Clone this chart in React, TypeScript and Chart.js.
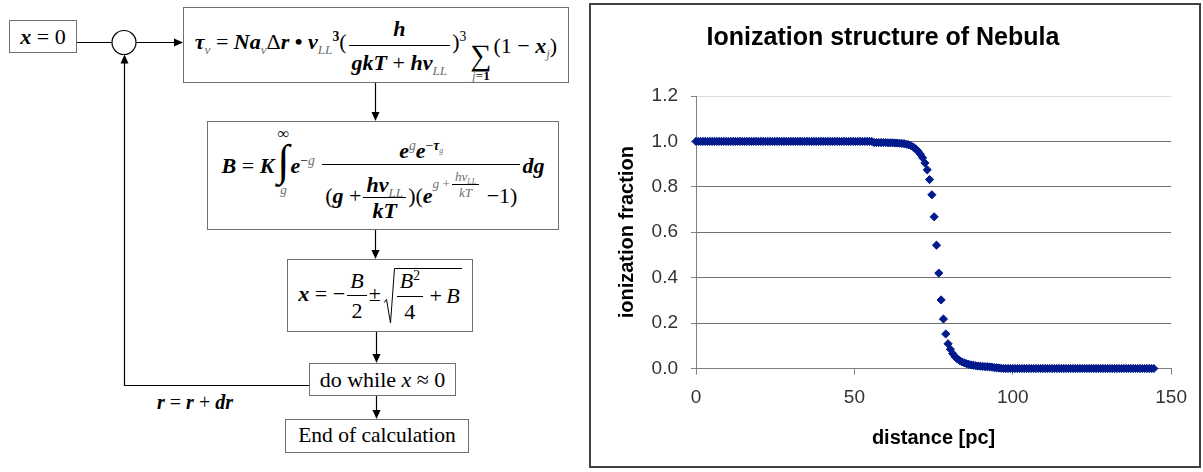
import React, { useEffect, useRef } from 'react';
import { Chart, registerables } from 'chart.js';

Chart.register(...registerables);

// ---------------- data ----------------
const distance = [
  0, 0.73, 1.46, 2.19, 2.92, 3.65, 4.38, 5.11, 5.84, 6.57,
  7.3, 8.03, 8.76, 9.49, 10.22, 10.95, 11.68, 12.41, 13.14, 13.87,
  14.6, 15.33, 16.06, 16.79, 17.52, 18.25, 18.98, 19.71, 20.44, 21.17,
  21.9, 22.63, 23.36, 24.09, 24.82, 25.55, 26.28, 27.01, 27.74, 28.47,
  29.2, 29.93, 30.66, 31.39, 32.12, 32.85, 33.58, 34.31, 35.04, 35.77,
  36.5, 37.23, 37.96, 38.69, 39.42, 40.15, 40.88, 41.61, 42.34, 43.07,
  43.8, 44.53, 45.26, 45.99, 46.72, 47.45, 48.18, 48.91, 49.64, 50.37,
  51.1, 51.83, 52.56, 53.29, 54.02, 54.75, 55.48, 56.21, 56.94, 57.67,
  58.4, 59.13, 59.86, 60.59, 61.32, 62.05, 62.78, 63.51, 64.24, 64.97,
  65.7, 66.43, 67.16, 67.89, 68.62, 69.35, 70.08, 70.81, 71.54, 72.27,
  73, 73.73, 74.46, 75.19, 75.92, 76.65, 77.38, 78.11, 78.84, 79.57,
  80.3, 81.03, 81.76, 82.49, 83.22, 83.95, 84.68, 85.41, 86.14, 86.87,
  87.6, 88.33, 89.06, 89.79, 90.52, 91.25, 91.98, 92.71, 93.44, 94.17,
  94.9, 95.63, 96.36, 97.09, 97.82, 98.55, 99.28, 100.01, 100.74, 101.47,
  102.2, 102.93, 103.66, 104.39, 105.12, 105.85, 106.58, 107.31, 108.04, 108.77,
  109.5, 110.23, 110.96, 111.69, 112.42, 113.15, 113.88, 114.61, 115.34, 116.07,
  116.8, 117.53, 118.26, 118.99, 119.72, 120.45, 121.18, 121.91, 122.64, 123.37,
  124.1, 124.83, 125.56, 126.29, 127.02, 127.75, 128.48, 129.21, 129.94, 130.67,
  131.4, 132.13, 132.86, 133.59, 134.32, 135.05, 135.78, 136.51, 137.24, 137.97,
  138.7, 139.43, 140.16, 140.89, 141.62, 142.35, 143.08, 143.81, 144.54,
];

const ionizationFraction = [
  1, 1, 1, 1, 1, 1, 1, 1, 1, 1,
  1, 1, 1, 1, 1, 1, 1, 1, 1, 1,
  1, 1, 1, 1, 1, 1, 1, 1, 1, 1,
  1, 1, 1, 1, 1, 1, 1, 1, 1, 1,
  1, 1, 1, 1, 1, 1, 1, 1, 1, 1,
  1, 1, 1, 1, 1, 1, 1, 1, 1, 1,
  1, 1, 1, 1, 1, 1, 1, 1, 1, 1,
  1, 1, 1, 1, 1, 1, 1, 0.995, 0.995, 0.995,
  0.995, 0.995, 0.995, 0.994, 0.994, 0.994, 0.993, 0.993, 0.992, 0.991,
  0.99, 0.988, 0.985, 0.981, 0.975, 0.967, 0.957, 0.944, 0.928, 0.905,
  0.875, 0.832, 0.765, 0.668, 0.543, 0.42, 0.302, 0.218, 0.152, 0.109,
  0.085, 0.066, 0.052, 0.042, 0.035, 0.029, 0.025, 0.021, 0.018, 0.016,
  0.014, 0.012, 0.011, 0.01, 0.009, 0.008, 0.008, 0.007, 0.006, 0.004,
  0.003, 0.002, 0.001, 0, 0, 0, 0, 0, 0, 0,
  0, 0, 0, 0, 0, 0, 0, 0, 0, 0,
  0, 0, 0, 0, 0, 0, 0, 0, 0, 0,
  0, 0, 0, 0, 0, 0, 0, 0, 0, 0,
  0, 0, 0, 0, 0, 0, 0, 0, 0, 0,
  0, 0, 0, 0, 0, 0, 0, 0, 0, 0,
  0, 0, 0, 0, 0, 0, 0, 0, 0,
];

const chartTitle = 'Ionization structure of Nebula';
const xAxisTitle = 'distance [pc]';
const yAxisTitle = 'ionization fraction';
const xRange = [0, 150];
const yRange = [0, 1.2];

// ---------------- math helpers ----------------
const SERIF = '"Liberation Serif", "Times New Roman", "DejaVu Serif", serif';
const SANS = '"Liberation Sans", Arial, sans-serif';
const GRAY = '#707070';

function BI({ children }: any) {
  return <span style={{ fontWeight: 700, fontStyle: 'italic' }}>{children}</span>;
}
function It({ children, gray }: any) {
  return <span style={{ fontStyle: 'italic', color: gray ? GRAY : undefined }}>{children}</span>;
}
function Sub({ children, gray = true }: any) {
  return (
    <span style={{ fontSize: '0.6em', position: 'relative', top: '0.4em', fontStyle: 'italic', fontWeight: 400, color: gray ? GRAY : undefined }}>
      {children}
    </span>
  );
}
function Sup({ children, bold, gray }: any) {
  return (
    <span style={{ fontSize: '0.62em', position: 'relative', top: '-0.6em', fontWeight: bold ? 700 : 400, color: gray ? GRAY : undefined }}>
      {children}
    </span>
  );
}
function Frac({ num, den, gap = 3, gapTop, lh = 1.15, va = 'middle' }: any) {
  const gTop = gapTop === undefined ? gap : gapTop;
  return (
    <span style={{ display: 'inline-flex', flexDirection: 'column', alignItems: 'center', verticalAlign: va, margin: '0 2px' }}>
      <span style={{ padding: `0 3px ${gTop}px`, lineHeight: lh }}>{num}</span>
      <span style={{ borderTop: '1px solid #000', padding: `${gap}px 3px 0`, lineHeight: lh, alignSelf: 'stretch', textAlign: 'center' }}>{den}</span>
    </span>
  );
}
function Sigma() {
  return (
    <span style={{ display: 'inline-flex', flexDirection: 'column', alignItems: 'center', verticalAlign: '-0.55em', margin: '0 2px 0 4px', lineHeight: 0.9 }}>
      <span style={{ fontSize: '1.35em' }}>∑</span>
      <span style={{ fontSize: '0.6em', lineHeight: 1.2 }}>
        <It gray>j</It>=<b>1</b>
      </span>
    </span>
  );
}
function Integral() {
  return (
    <span style={{ display: 'inline-flex', flexDirection: 'column', alignItems: 'center', verticalAlign: '34px', lineHeight: 1, margin: '0 1px 0 3px' }}>
      <span style={{ fontSize: '0.75em', lineHeight: 0.6, fontWeight: 700 }}>∞</span>
      <span style={{ fontSize: '2em', lineHeight: 1, fontWeight: 700 }}>∫</span>
      <span style={{ fontSize: '0.6em', lineHeight: 1, fontStyle: 'italic', color: GRAY }}>g</span>
    </span>
  );
}
function Sqrt({ children, h }: any) {
  return (
    <span style={{ display: 'inline-flex', alignItems: 'flex-start', verticalAlign: 'middle', marginLeft: 3 }}>
      <svg width={11} height={h} style={{ display: 'block' }}>
        <polyline points={`0,${h * 0.62} 2.5,${h * 0.56} 6.5,${h - 1} 10.5,0.5 11,0.5`} fill="none" stroke="#000" strokeWidth={1} />
      </svg>
      <span style={{ borderTop: '1px solid #000', height: h - 1, display: 'inline-flex', alignItems: 'center', paddingRight: 2 }}>{children}</span>
    </span>
  );
}

function Box({ x, y, w, h, fs = 22, children, style }: any) {
  return (
    <div
      style={{
        position: 'absolute', left: x, top: y, width: w, height: h, boxSizing: 'border-box',
        border: '1px solid #707070', display: 'flex', alignItems: 'center', justifyContent: 'center',
        fontSize: fs, whiteSpace: 'nowrap', lineHeight: 1, fontFamily: SERIF, color: '#000', ...style,
      }}
    >
      <span>{children}</span>
    </div>
  );
}

function Flowchart() {
  const arrowDown = (x: number, y: number) => `${x},${y} ${x - 4},${y - 9} ${x + 4},${y - 9}`;
  return (
    <>
      <svg width={590} height={472} style={{ position: 'absolute', left: 0, top: 0 }}>
        <g stroke="#000" strokeWidth={1.2} fill="none">
          <line x1={77} y1={42.5} x2={112} y2={42.5} />
          <circle cx={124} cy={42.5} r={12} />
          <line x1={136} y1={42.5} x2={175} y2={42.5} />
          <line x1={375.5} y1={83} x2={375.5} y2={113} />
          <line x1={375.5} y1={229} x2={375.5} y2={251} />
          <line x1={376.5} y1={332} x2={376.5} y2={355} />
          <line x1={376.5} y1={395} x2={376.5} y2={411} />
          <polyline points="309,385.5 124.5,385.5 124.5,62" />
        </g>
        <g fill="#000">
          <polygon points="183,42.5 174,38.5 174,46.5" />
          <polygon points={arrowDown(375.5, 121)} />
          <polygon points={arrowDown(375.5, 259)} />
          <polygon points={arrowDown(376.5, 363)} />
          <polygon points={arrowDown(376.5, 419)} />
          <polygon points="124.5,54.5 120.5,63.5 128.5,63.5" />
        </g>
      </svg>

      <Box x={9} y={20} w={68} h={33} fs={22}>
        <BI>x</BI> = 0
      </Box>

      <Box x={183} y={7} w={386} h={76} fs={22}>
        <span style={{ position: 'relative', top: 3 }}>
          <BI>τ</BI><Sub>ν</Sub> = <BI>Na</BI><Sub>ν</Sub>Δ<BI>r</BI> <b>•</b> <BI>v</BI><Sub>LL</Sub><Sup bold>3</Sup>(
          <Frac va="13px" gap={4} num={<BI>h</BI>} den={<><BI>gkT</BI> + <BI>hv</BI><Sub>LL</Sub></>} />
          )<Sup>3</Sup>
          <span style={{ position: 'relative', top: 4 }}>
            <Sigma />(1 − <BI>x</BI><Sub>j</Sub>)
          </span>
        </span>
      </Box>

      <Box x={207} y={121} w={352} h={109} fs={22}>
        <span style={{ position: 'relative', top: 0 }}>
          <BI>B</BI> = <BI>K</BI>
          <Integral />
          <BI>e</BI><Sup>−<It gray>g</It></Sup>{' '}
          <Frac
            gap={8}
            gapTop={0}
            va="15px"
            num={<><BI>e</BI><Sup><It gray>g</It></Sup><BI>e</BI><Sup>−<BI>τ</BI><Sub>g</Sub></Sup></>}
            den={
              <>
                (<BI>g</BI> +
                <Frac gap={1} lh={1.05} num={<><BI>hv</BI><Sub>LL</Sub></>} den={<BI>kT</BI>} />
                )(<BI>e</BI>
                <span style={{ fontSize: '0.6em', position: 'relative', top: '-1.1em', color: GRAY }}>
                  <It>g</It> +
                  <Frac gap={1} lh={1} num={<It>hv<Sub>LL</Sub></It>} den={<It>kT</It>} />
                </span>
                {' '}−1)
              </>
            }
          />
          <BI>dg</BI>
        </span>
      </Box>

      <Box x={287} y={259} w={186} h={73} fs={22}>
        <It><b>x</b></It> = −
        <Frac gap={2} num={<It>B</It>} den={<span>2</span>} />±
        <Sqrt h={56}>
          <Frac gap={2} num={<><It>B</It><Sup>2</Sup></>} den={<span>4</span>} />{'\u2009'}+{'\u2009'}<It>B</It>
        </Sqrt>
      </Box>

      <Box x={309} y={363} w={147} h={33} fs={22}>
        do while <It>x</It> ≈ 0
      </Box>

      <Box x={285} y={419} w={184} h={34} fs={21.5}>
        End of calculation
      </Box>

      <div style={{ position: 'absolute', left: 157, top: 392, fontSize: 20, fontFamily: SERIF, whiteSpace: 'nowrap', lineHeight: 1 }}>
        <BI>r</BI> = <BI>r</BI> + <BI>dr</BI>
      </div>
    </>
  );
}

function NebulaChart() {
  const ref = useRef<HTMLCanvasElement>(null);
  useEffect(() => {
    const points = distance.map((d, i) => ({ x: d, y: ionizationFraction[i] }));
    const chart = new Chart(ref.current!, {
      type: 'scatter',
      data: {
        datasets: [
          {
            data: points,
            pointStyle: 'rectRot',
            pointRadius: 4.1,
            pointBorderWidth: 1,
            backgroundColor: '#001a8c',
            borderColor: '#001a8c',
            showLine: false,
            clip: false as any,
          },
        ],
      },
      options: {
        animation: false,
        responsive: false,
        maintainAspectRatio: false,
        layout: { padding: { left: 0, right: 24, top: 0, bottom: 0 } },
        plugins: {
          legend: { display: false },
          tooltip: { enabled: false },
          title: {
            display: true,
            text: chartTitle,
            color: '#000',
            font: { family: SANS, size: 25, weight: 'bold' },
            padding: { top: 18, bottom: 43 },
          },
        },
        scales: {
          x: {
            type: 'linear',
            min: xRange[0],
            max: xRange[1],
            ticks: { stepSize: 50, color: '#333', font: { family: SANS, size: 19 }, padding: 12, maxRotation: 0 },
            grid: { display: true, drawOnChartArea: false, tickLength: 6, color: '#808080' },
            border: { display: true, color: '#808080' },
            title: { display: true, text: xAxisTitle, color: '#000', font: { family: SANS, size: 20, weight: 'bold' }, padding: { top: 0, bottom: 16 } },
            afterFit: (s: any) => { s.height = 97.5; },
          },
          y: {
            type: 'linear',
            min: yRange[0],
            max: yRange[1],
            ticks: { stepSize: 0.2, color: '#333', font: { family: SANS, size: 19 }, padding: 13, callback: (v: any) => Number(v).toFixed(1) },
            grid: {
              color: (c: any) => (c.index === 6 ? '#dcdcdc' : '#707070'),
              tickColor: '#808080',
              tickLength: 5,
            },
            border: { display: true, color: '#808080' },
            title: { display: true, text: yAxisTitle, color: '#000', font: { family: SANS, size: 20, weight: 'bold' }, padding: { top: 24, bottom: 0 } },
            afterFit: (s: any) => { s.width = 105; },
          },
        },
      } as any,
    });
    return () => chart.destroy();
  }, []);
  return (
    <>
      <div style={{ position: 'absolute', left: 589, top: 3, width: 612, height: 465, boxSizing: 'border-box', border: '2px solid #404040' }} />
      <canvas ref={ref} width={608} height={461} style={{ position: 'absolute', left: 591, top: 5, width: 608, height: 461 }} />
    </>
  );
}

export default function App() {
  return (
    <div style={{ position: 'absolute', left: 0, top: 0, width: 1203, height: 472, background: '#fff', overflow: 'hidden' }}>
      <Flowchart />
      <NebulaChart />
    </div>
  );
}
